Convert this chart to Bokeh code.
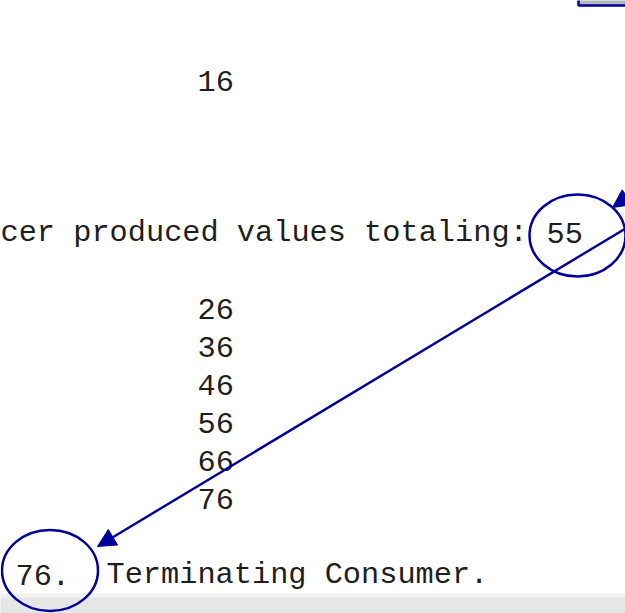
from bokeh.plotting import figure
from bokeh.models import Range1d, Arrow, NormalHead, ColumnDataSource
from bokeh.embed import file_html
from bokeh.resources import INLINE
from bokeh.core.properties import value

# ---- data ----
column_values = ["16", "26", "36", "46", "56", "66", "76"]
column_rows = [0, 6, 7, 8, 9, 10, 11]
total_label = "cer produced values totaling:"
total_value = "55"
total_row = 4
final_value = "76."
final_text = "Terminating Consumer."
final_row = 13

# ---- layout ----
W, H = 625, 613
PW, PH = 625, 613
NAVY = "#00009a"
TXT = "#1e1e1e"
FONT = value("Liberation Mono")
FSIZE = "30.3px"
CH = 18.2  # character advance


def row_y(r):
    return 80 + 38 * r


p = figure(width=PW, height=PH, x_range=Range1d(0, W), y_range=Range1d(H, 0),
           output_backend="svg", toolbar_location=None, min_border=0)
p.axis.visible = False
p.grid.visible = False
p.outline_line_color = None
p.background_fill_color = "white"
p.border_fill_color = "white"

# status bar at the bottom
p.quad(left=-10, right=W + 10, top=593, bottom=597, fill_color="#f2f2f2", line_color=None)
p.quad(left=-10, right=W + 10, top=597, bottom=H + 10, fill_color="#e6e6e6", line_color=None)

# box at top right
p.quad(left=578, right=W + 20, top=-20, bottom=5, fill_color="#b4b4bc",
       line_color=NAVY, line_width=2.5)

# numbers column
src = ColumnDataSource(dict(x=[197] * len(column_values),
                            y=[row_y(r) for r in column_rows],
                            t=column_values))
p.text(x="x", y="y", text="t", source=src, text_font=FONT, text_font_size=FSIZE,
       text_color=TXT, text_align="left", text_baseline="middle")

# totals line
p.text(x=[0, 0 + 30 * CH], y=[row_y(total_row)] * 2, text=[total_label, total_value],
       text_font=FONT, text_font_size=FSIZE, text_color=TXT,
       text_align="left", text_baseline="middle")

# final line
p.text(x=[15, 15 + 5 * CH], y=[row_y(final_row)] * 2, text=[final_value, final_text],
       text_font=FONT, text_font_size=FSIZE, text_color=TXT,
       text_align="left", text_baseline="middle")

# circles
p.ellipse(x=[577, 49.5], y=[235, 570], width=[96, 96], height=[82, 81],
          fill_color=None, line_color=NAVY, line_width=2.5)

# arrows
p.add_layout(Arrow(end=NormalHead(size=18, fill_color=NAVY, line_color=NAVY),
                   x_start=625, y_start=228, x_end=97, y_end=546,
                   line_color=NAVY, line_width=2.4))
p.add_layout(Arrow(end=NormalHead(size=18, fill_color=NAVY, line_color=NAVY),
                   x_start=680, y_start=160, x_end=612, y_end=207,
                   line_color=NAVY, line_width=2.4))

open("out.html", "w").write(file_html(p, INLINE))
